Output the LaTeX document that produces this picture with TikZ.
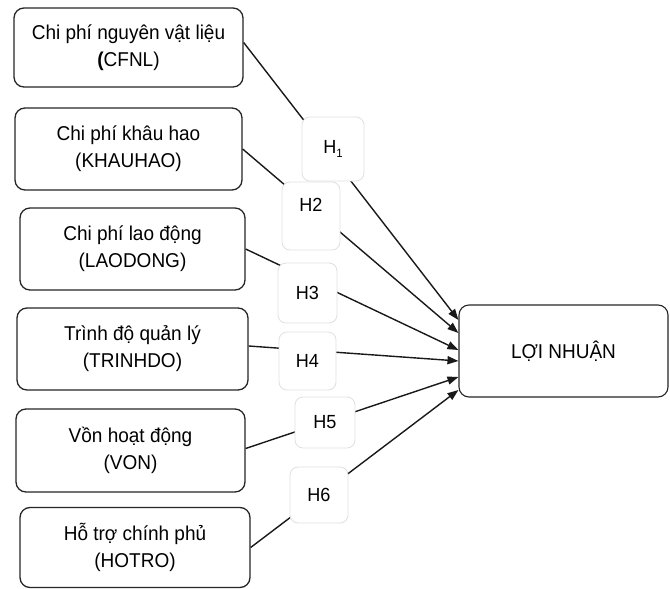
\documentclass[tikz,border=0pt]{standalone}
\usepackage{fontspec}
\setmainfont{Liberation Sans}[FakeStretch=0.95]
\usetikzlibrary{arrows.meta}
\begin{document}
\begin{tikzpicture}[x=1pt,y=-1pt,
  varbox/.style={draw=black!85, line width=1.3pt, rounded corners=10pt, fill=white,
    align=center, inner sep=0pt, font=\fontsize{20}{27}\selectfont},
  hbox/.style={draw=black!12, line width=0.8pt, rounded corners=8pt, fill=white,
    inner sep=0pt, font=\fontsize{19}{22}\selectfont},
  conn/.style={line width=1.4pt, black!90, -{Triangle[length=11pt,width=8pt]}}]
\useasboundingbox (0,0) rectangle (670,589);
% source boxes
\node[varbox, minimum width=229pt, minimum height=79pt] (b1) at (128.5,47.5) {Chi phí nguyên vật liệu\\{\bfseries (}CFNL)};
\node[varbox, minimum width=227pt, minimum height=82pt] (b2) at (128.5,149) {Chi phí khâu hao\\(KHAUHAO)};
\node[varbox, minimum width=225pt, minimum height=82pt] (b3) at (132.5,249) {Chi phí lao động\\(LAODONG)};
\node[varbox, minimum width=231pt, minimum height=82pt] (b4) at (132.5,349) {Trình độ quản lý\\(TRINHDO)};
\node[varbox, minimum width=229pt, minimum height=83pt] (b5) at (130.5,450.5) {Vồn hoạt động\\(VON)};
\node[varbox, minimum width=230pt, minimum height=80pt] (b6) at (135,547.5) {Hỗ trợ chính phủ\\(HOTRO)};
% target
\node[varbox, line width=1.1pt, minimum width=209pt, minimum height=92pt] (t) at (563.5,351) {LỢI NHUẬN};
% connectors
\draw[conn] ([yshift=5pt]b1.east) -- ([yshift=31pt]t.west);
\draw[conn] (b2.east) -- ([yshift=18pt]t.west);
\draw[conn] (b3.east) -- ([yshift=1pt]t.west);
\draw[conn] ([yshift=3pt]b4.east) -- ([yshift=-10pt]t.west);
\draw[conn] ([yshift=2pt]b5.east) -- ([yshift=-26pt]t.west);
\draw[conn] (b6.east) -- ([yshift=-39pt]t.west);
% hypothesis labels
\node[hbox, minimum width=62pt, minimum height=64pt] (h1) at (333,149) {H{\fontsize{12}{12}\selectfont\raisebox{-4pt}{1}}};
\node[hbox, minimum width=58pt, minimum height=68pt, text depth=22pt] (h2) at (311,216) {H2};
\node[hbox, minimum width=59pt, minimum height=60pt] (h3) at (307.5,293) {H3};
\node[hbox, minimum width=57pt, minimum height=58pt] (h4) at (307.5,361) {H4};
\node[hbox, minimum width=60pt, minimum height=51pt] (h5) at (325,422.5) {H5};
\node[hbox, minimum width=58pt, minimum height=56pt] (h6) at (319,495) {H6};
\end{tikzpicture}
\end{document}
